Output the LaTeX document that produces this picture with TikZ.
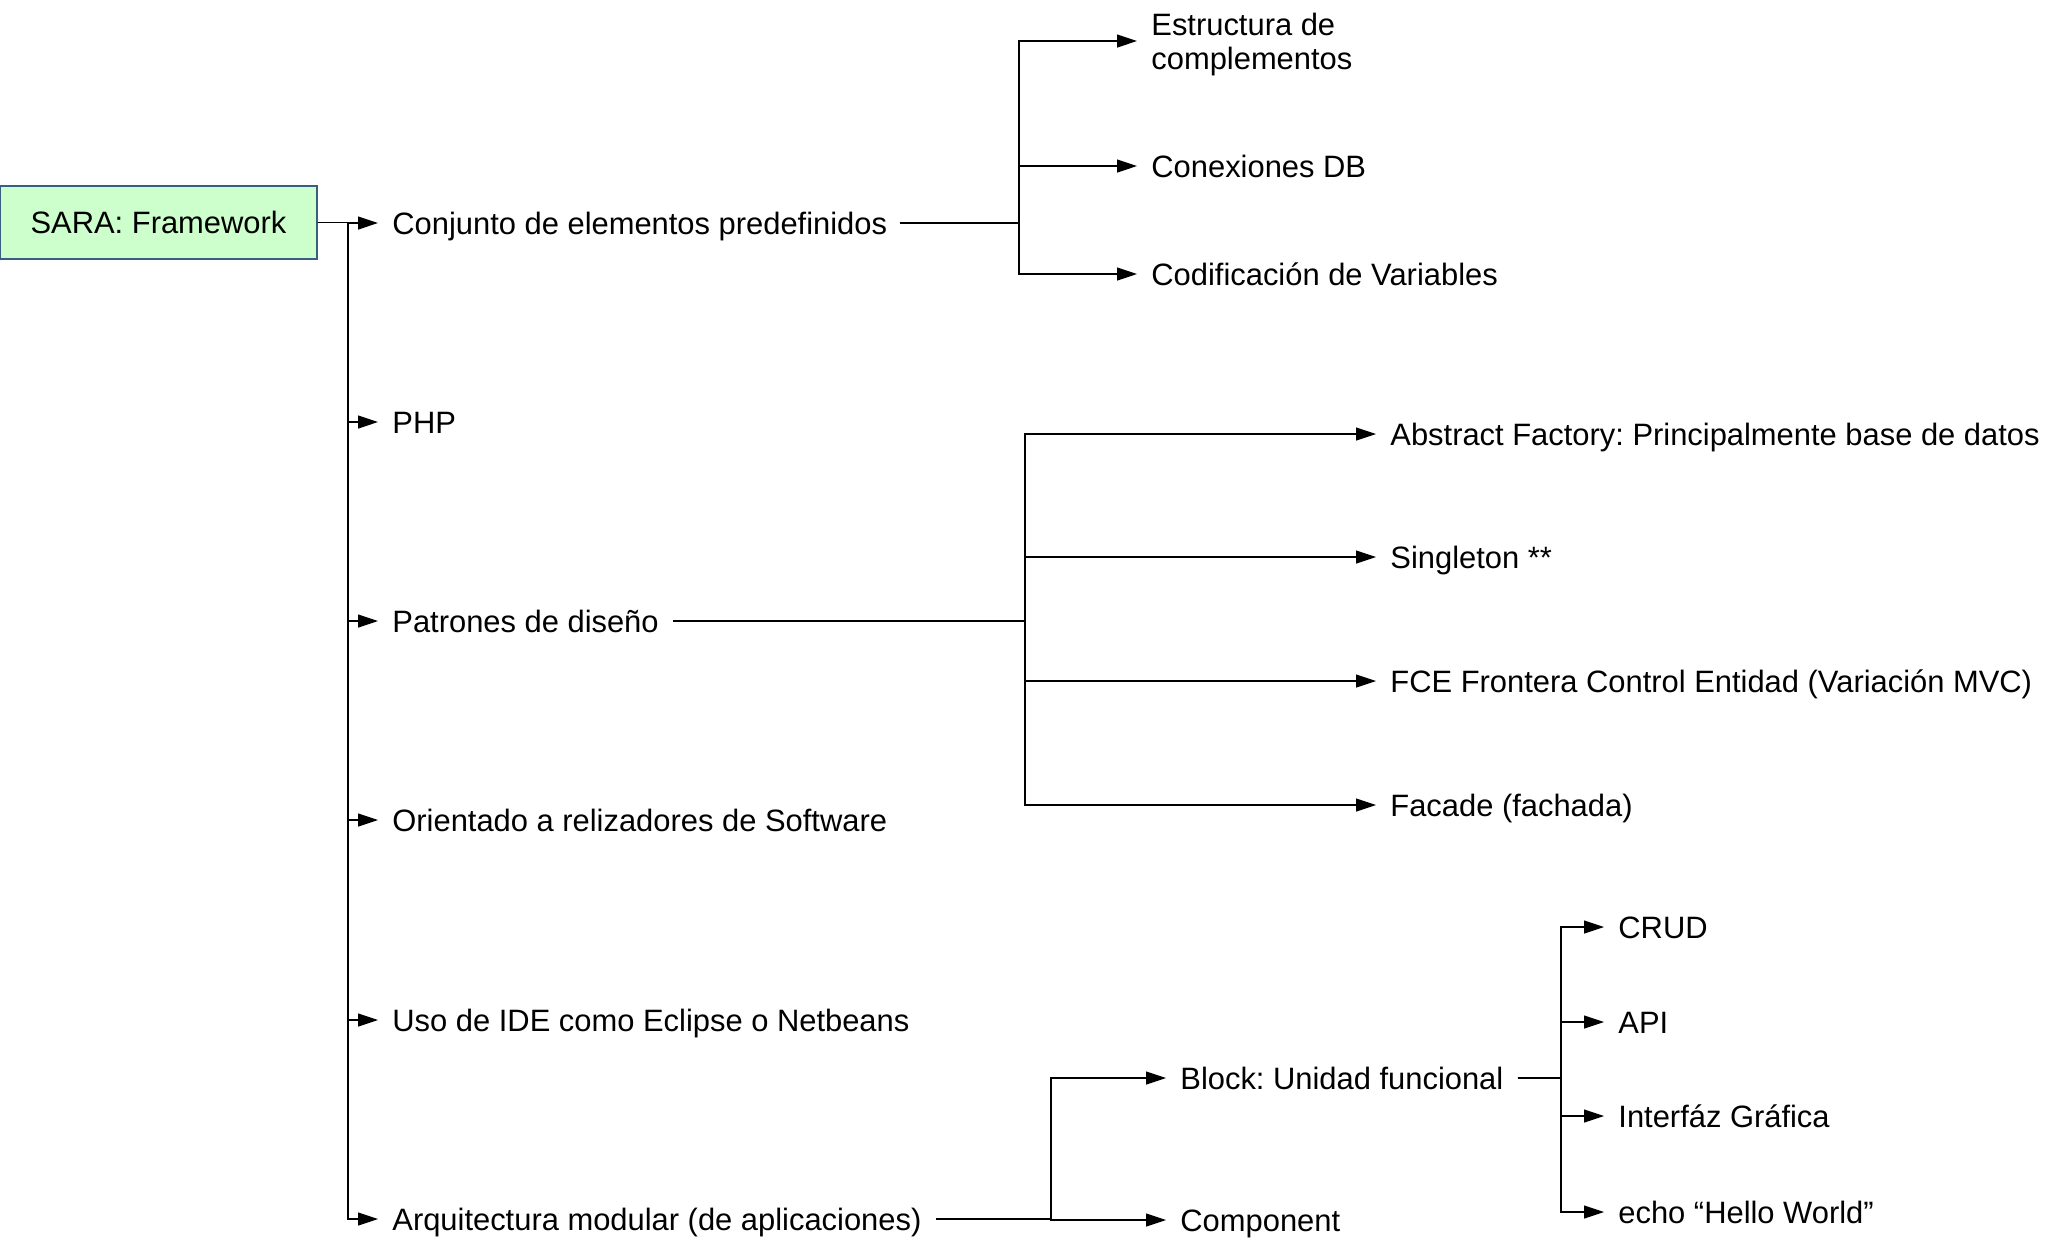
\documentclass[tikz,border=0pt]{standalone}
\usepackage{fontspec}
\setmainfont{Liberation Sans}
\usetikzlibrary{arrows.meta}
\usetikzlibrary{positioning}
\definecolor{boxfill}{RGB}{204,255,204}
\definecolor{boxline}{RGB}{56,95,130}
\frenchspacing

\begin{document}
\begin{tikzpicture}[x=0.5pt,y=-0.5pt,
  item/.style={anchor=west,inner xsep=7pt,inner ysep=0pt,
    text height=11.1pt,text depth=0pt},
  root/.style={draw=boxline,fill=boxfill,line width=0.6pt,
    minimum width=158.5pt,minimum height=36.5pt,inner sep=0pt},
  link/.style={line width=0.6pt,-{Triangle[length=10pt,width=6.5pt]}},
  font=\fontsize{15.45pt}{17pt}\selectfont]
\useasboundingbox (0,0) rectangle (2055,1243);
% root and first level
\node[root] (sara) at (158.5,222.5) {SARA: Framework};
\node[item] (conj) at (378,223)  {Conjunto de elementos predefinidos};
\node[item] (php)  at (378,422)  {PHP};
\node[item] (patr) at (378,621)  {Patrones de dise\~no};
\node[item] (orie) at (378,820)  {Orientado a relizadores de Software};
\node[item] (uso)  at (378,1020) {Uso de IDE como Eclipse o Netbeans};
\node[item] (arq)  at (378,1219) {Arquitectura modular (de aplicaciones)};
% second level
\node[item,align=left,text height=28.1pt] (estr) at (1137,41) {Estructura de\\complementos};
\node[item] (conex) at (1137,166) {Conexiones DB};
\node[item] (codif) at (1137,274) {Codificaci\'on de Variables};
\node[item] (abst) at (1376,434) {Abstract Factory: Principalmente base de datos};
\node[item] (sing) at (1376,557) {Singleton **};
\node[item] (fce)  at (1376,681) {FCE Frontera Control Entidad (Variaci\'on MVC)};
\node[item] (fach) at (1376,805) {Facade (fachada)};
\node[item] (block) at (1166,1078) {Block: Unidad funcional};
\node[item] (comp)  at (1166,1220) {Component};
% third level
\node[item] (crud) at (1604,927)  {CRUD};
\node[item] (api)  at (1604,1022) {API};
\node[item] (gui)  at (1604,1116) {Interf\'az Gr\'afica};
\node[item] (echo) at (1604,1212) {echo “Hello World”};
% bus lines
\coordinate (spine) at (348,0);
\coordinate (cbus) at (1019,0);
\coordinate (pbus) at (1025,0);
\coordinate (abus) at (1051,0);
\coordinate (bbus) at (1561,0);
\foreach \c in {conj,php,patr,orie,uso,arq}
  \draw[link] (sara.east) -| (spine |- \c.west) -- (\c.west);
\foreach \c in {estr,conex,codif}
  \draw[link] ([xshift=-1pt]conj.east) -| (cbus |- \c.west) -- (\c.west);
\foreach \c in {abst,sing,fce,fach}
  \draw[link] (patr.east) -| (pbus |- \c.west) -- (\c.west);
\foreach \c in {block,comp}
  \draw[link] (arq.east) -| (abus |- \c.west) -- (\c.west);
\foreach \c in {crud,api,gui,echo}
  \draw[link] (block.east) -| (bbus |- \c.west) -- (\c.west);
\end{tikzpicture}
\end{document}
